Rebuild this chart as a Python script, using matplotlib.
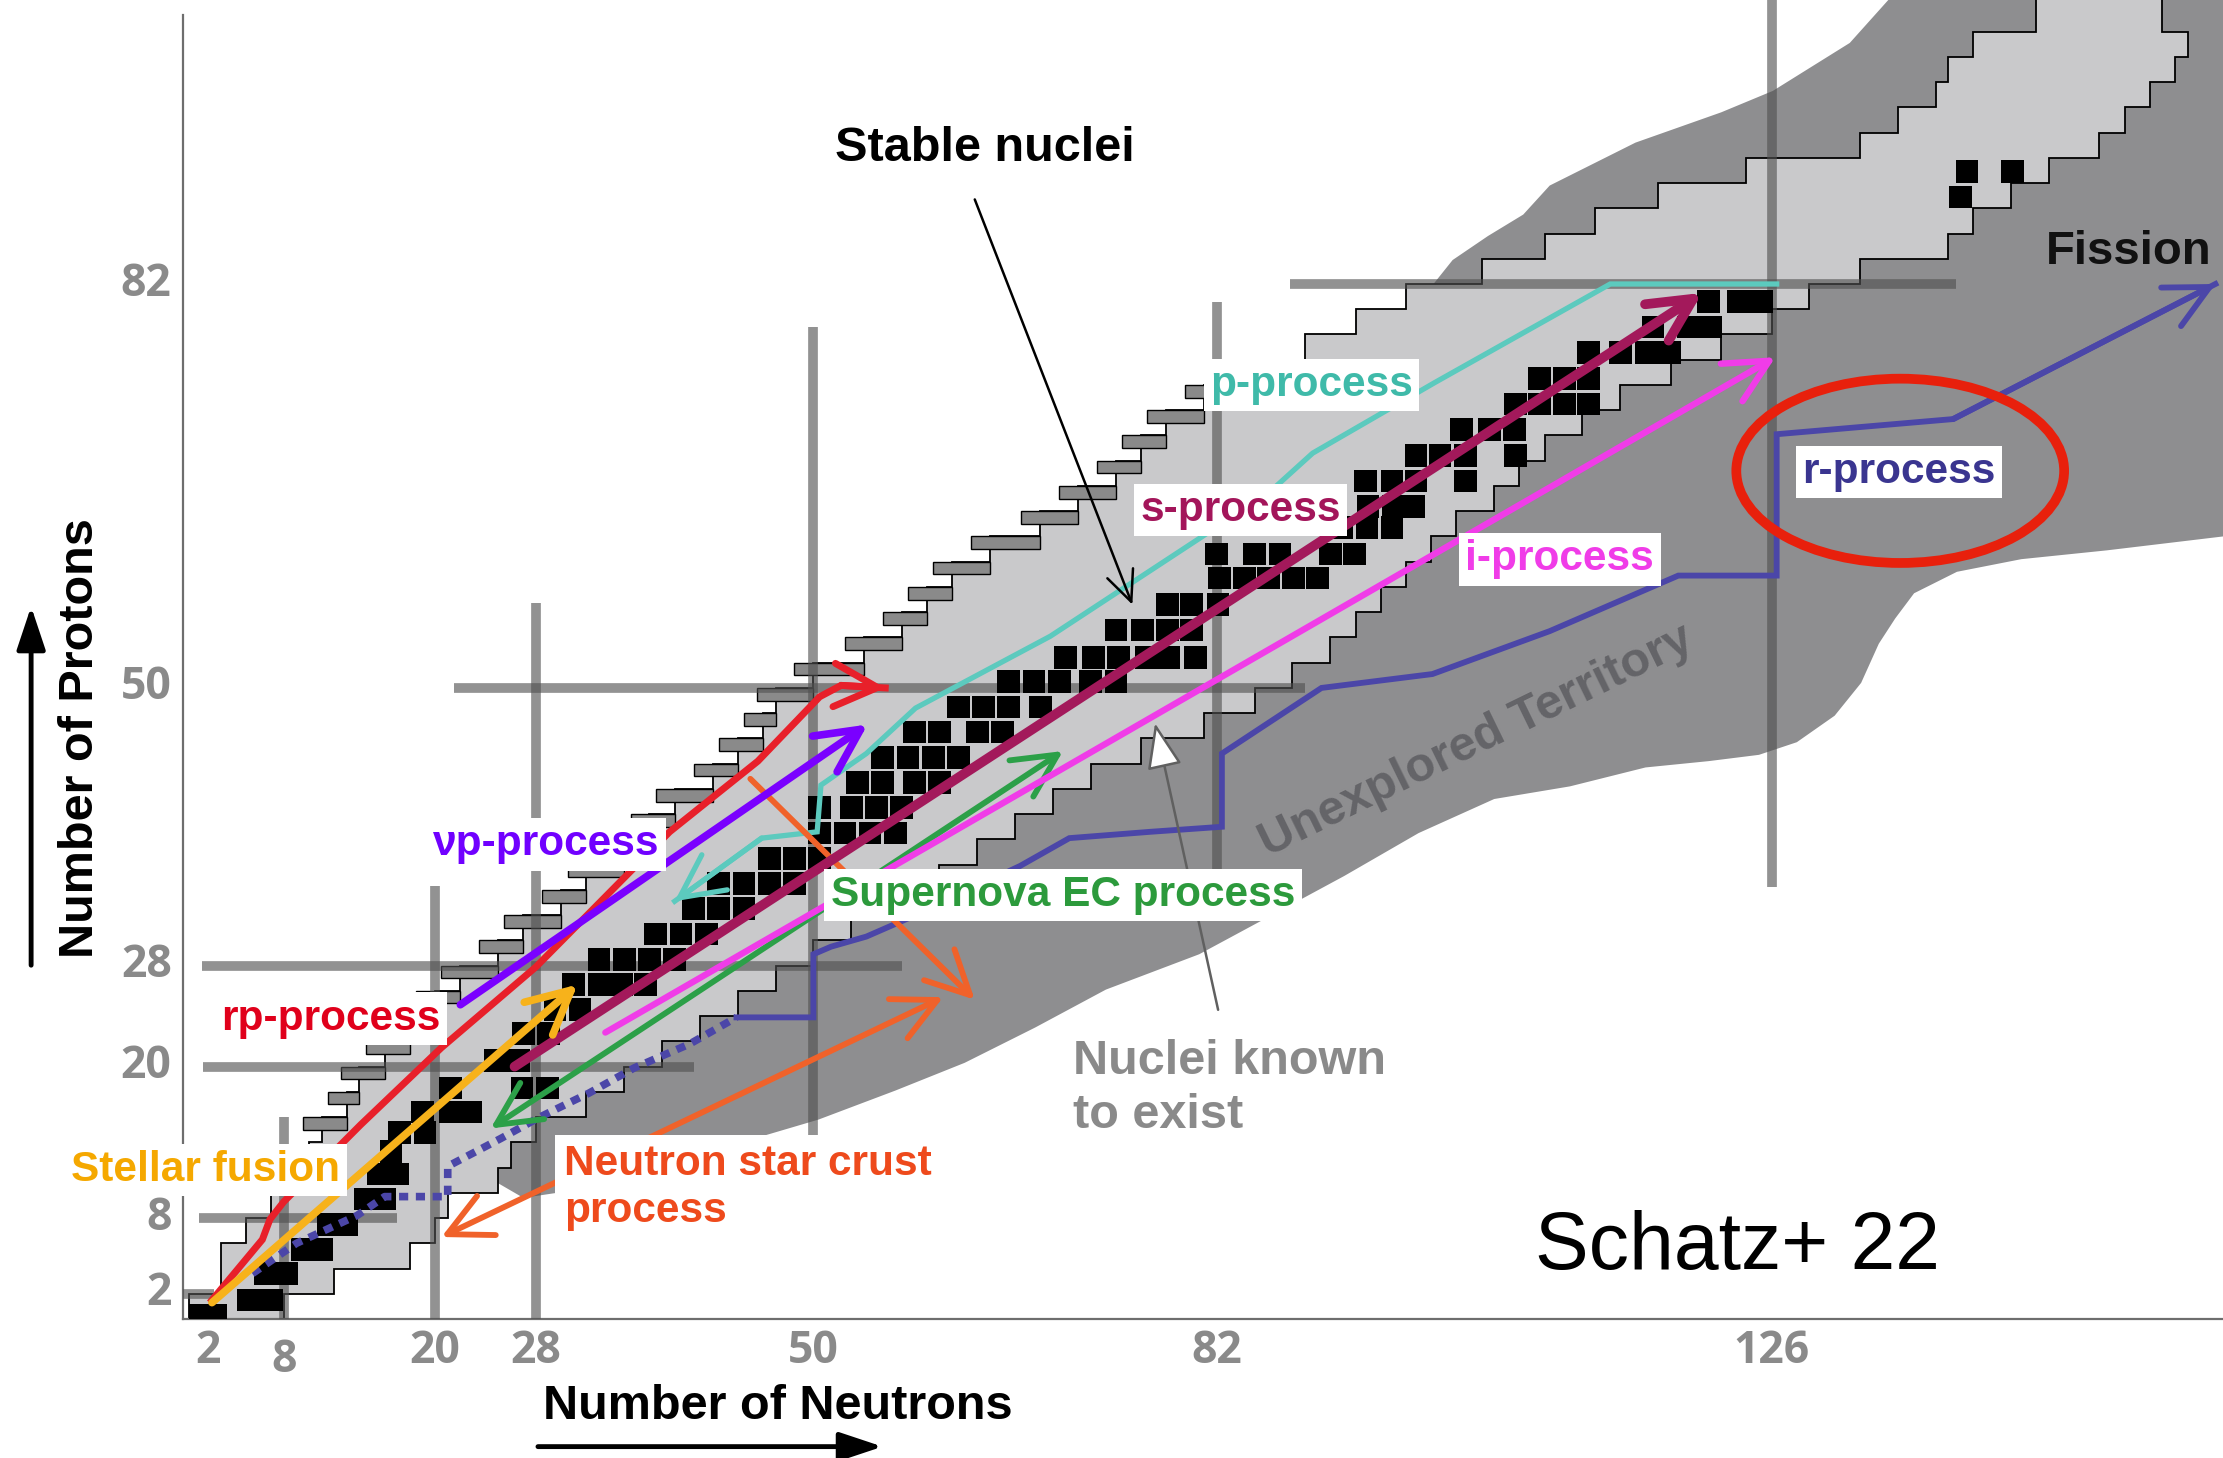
import matplotlib
matplotlib.use('Agg')
import matplotlib.pyplot as plt
from matplotlib.patches import Polygon, Rectangle, Ellipse

# rows of the chart of nuclides, two protons per row: lower edge, lightest and heaviest known N
row_z = list(range(0, 104, 2))
row_nmin = [0.5, 3, 3, 5, 7, 9, 10, 11, 13, 14, 16, 18, 20, 22, 25, 27, 30, 32, 35, 37,
            39, 42, 44, 46, 47, 50, 54, 57, 59, 61, 64, 68, 71, 74, 76, 78, 81, 86, 89, 93,
            97, 103, 108, 112, 117, 124, 133, 136, 139, 140, 142, 147]
row_nmax = [8, 12, 18, 20, 21, 25, 26, 28, 32, 35, 38, 41, 44, 47, 50, 53, 57, 60, 63, 66,
            69, 72, 76, 81, 85, 88, 91, 93, 95, 97, 99, 101, 104, 106, 108, 111, 114, 118, 122, 126,
            129, 133, 140, 142, 145, 148, 152, 154, 156, 158, 159, 157]

# outline of the predicted (unexplored) region
dark_n = [27, 33, 38, 42.6, 50.4, 56.5, 62, 67.6, 73.2, 80.6, 85.8, 92.1, 98, 104, 110,
          116, 121, 125, 128, 131, 133.1, 134.5, 135.8, 137.3, 140.7, 145.8, 152.6, 161.8, 165,
          165, 136.6, 132.2, 126.1, 122, 115.2, 108.4, 106.3, 103.5, 100.7, 99.1, 100, 70, 22]
dark_z = [9.6, 10.5, 12, 13.5, 15.8, 18.1, 20.3, 23.1, 26.1, 28.9, 31.7, 35.1, 38.5, 41.2,
          42.2, 43.7, 44.2, 44.7, 45.7, 47.8, 50.4, 53.5, 55.5, 57.5, 59.2, 60.2, 60.9, 62, 62,
          106, 106, 101.1, 97.3, 95.6, 93.2, 89.8, 87.5, 85.8, 83.9, 81.9, 80, 50, 12.5]

# stable nuclei, cell centres (Z row: N values)
stable = {
    0.3: [1.4, 2.6], 1.5: [5.2, 7.0], 3.6: [6.5, 8.2], 5.5: [9.5, 11], 7.5: [11.5, 13],
    9.5: [14.5, 16], 11.5: [15.5, 17], 13.3: [16.5], 14.8: [17.2, 19.2], 16.4: [19, 21.2, 22.8],
    18.3: [21.2, 26.9, 28.9], 20.5: [24.8, 26.6], 22.6: [27, 29], 24.5: [29.5, 31.5],
    26.5: [31, 33, 34.8, 36.7], 28.5: [33, 35, 37, 39],
    30.5: [37.5, 39.5, 41.5], 32.5: [40.5, 42.5, 44.5], 34.5: [42.5, 44.5, 46.5, 48.5],
    36.5: [46.5, 48.5, 50.5], 38.5: [50.5, 52.5, 54.5, 56.5], 40.5: [50.5, 53, 55, 57],
    42.5: [53.5, 55.5, 58, 60], 44.5: [55.5, 57.5, 59.5, 61.5], 46.5: [58, 60, 63, 65],
    48.5: [61.5, 63.5, 65.5, 68], 50.5: [65.5, 67.5, 69.5, 72, 74],
    52.4: [70, 72.2, 74.2, 76.4, 78.2, 80.3], 54.6: [74, 76.1, 78.1, 80],
    56.6: [78.1, 80, 82.1], 58.7: [82.2, 84.2, 86.1, 88.1, 90], 60.6: [82, 85, 87, 91, 92.9],
    62.7: [91.9, 93.9, 95.9], 64.4: [94, 96, 97.6], 66.4: [93.8, 95.9, 97.8, 101.7],
    68.4: [97.8, 99.7, 101.7, 105.7], 70.5: [101.4, 103.6, 105.6],
    72.5: [105.7, 107.6, 109.6, 111.5], 74.5: [107.6, 109.6, 111.5], 76.6: [111.5, 114, 116.1, 117.9],
    78.6: [116.6, 119.4, 121.2], 80.6: [121, 123.4, 125.2], 88.9: [141], 90.9: [141.5, 145.1],
}

# closed shells: (N, Z from, Z to) and (Z, N from, N to)
magic_v = [(8, 0, 16), (20, 0, 34.3), (28, 0, 56.7), (50, 14.5, 78.6), (82, 35.5, 80.6), (126, 34.2, 104.5)]
magic_h = [(2, 0, 2.5), (8, 1.3, 17), (20, 1.6, 40.5), (28, 1.5, 57), (50, 21.5, 89), (82, 87.8, 140.6)]

# process paths (N, Z)
stellar = [(2.3, 1.3), (31.3, 26.5)]
rp_path = [(2.3, 1.5), (6.3, 6.3), (6.9, 7.9), (8, 9.3), (14.1, 15.4), (20.5, 21.5), (28, 27.9),
           (38.6, 38.6), (45.6, 44.2), (50.5, 49.3), (52.2, 50.2), (55.7, 50.0)]
nup = [(22, 24.9), (54.3, 47.1)]
s_proc = [(26.3, 20), (120.5, 81.3)]
i_proc = [(33.5, 22.7), (126.3, 76.2)]
sn_ec = [(24.4, 15.1), (69.8, 45.0)]
p_path = [(126.4, 82), (113.2, 82), (99.3, 74.2), (89.6, 68.6), (86.5, 65.8), (80.7, 61.9),
          (68.8, 54.1), (58.1, 48.4), (54.2, 44.8), (50.6, 42.3), (50.3, 38.6), (45.9, 38.1), (39, 33.1)]
r_dotted = [(5.5, 3.6), (9, 6), (13.8, 8.2), (16, 9.7), (21, 9.7), (21, 12.1), (25.2, 14.3),
            (28.3, 16), (32.2, 17.9), (35.8, 19.9), (40.2, 21.8), (43.9, 23.9)]
r_path = [(43.9, 23.9), (50, 23.9), (50, 28.9), (51.4, 29.5), (54.2, 30.3), (58.1, 32), (66.4, 35.9),
          (70.3, 38.1), (76.7, 38.6), (82.4, 39), (82.4, 44.8), (90.3, 50), (99.1, 51.1),
          (108.4, 54.5), (118.6, 58.9), (126.4, 58.9), (126.4, 70.1), (140.4, 71.3), (161.2, 82)]
crust_a = [(20.5, 6.5), (60.3, 25.5)]
crust_b = [(45, 42.8), (62.8, 25.3)]

xticks = [2, 8, 20, 28, 50, 82, 126]
yticks = [2, 8, 20, 28, 50, 82]

LIGHT = '#c9c9cb'
DARK = '#8e8e90'

fig = plt.figure(figsize=(22.23, 14.58), dpi=100)
ax = fig.add_axes([0.0823, 0.0953, 0.9177, 0.9047])
ax.set_xlim(0, 161.8)
ax.set_ylim(0, 104.5)
for s in ['top', 'right']:
    ax.spines[s].set_visible(False)
for s in ['left', 'bottom']:
    ax.spines[s].set_color('#6e6e6e')
    ax.spines[s].set_linewidth(1.6)
ax.spines['left'].set_bounds(0, 103.3)
ax.set_xticks([])
ax.set_yticks([])

# unexplored territory
ax.add_patch(Polygon(list(zip(dark_n, dark_z)), closed=True, fc=DARK, ec='none', zorder=1))

# known nuclei as a staircase
edges = row_z + [106]
left = []
right = []
for k in range(len(row_z)):
    left += [(row_nmin[k], edges[k]), (row_nmin[k], edges[k + 1])]
    right += [(row_nmax[k], edges[k]), (row_nmax[k], edges[k + 1])]
outline = left + right[::-1]
ax.add_patch(Polygon(outline, closed=True, fc=LIGHT, ec='black', lw=1.3, zorder=2))

# darker cells under each step on the proton-rich side
for k in range(len(row_z) - 1):
    if 14 <= row_z[k] <= 72:
        n0 = row_nmin[k] - 1.5
        w = max(row_nmin[k + 1] - n0, 2.5)
        ax.add_patch(Rectangle((n0, edges[k + 1] - 1.0), w, 1.0, fc='#8a8a8a', ec='black',
                               lw=1.0, zorder=2.5))

for n, z0, z1 in magic_v:
    ax.plot([n, n], [z0, z1], color='#505050', alpha=0.62, lw=7, solid_capstyle='butt', zorder=3)
for z, n0, n1 in magic_h:
    ax.plot([n0, n1], [z, z], color='#505050', alpha=0.62, lw=7, solid_capstyle='butt', zorder=3)

sq = 1.8
for z, ns in stable.items():
    for n in ns:
        ax.add_patch(Rectangle((n - sq / 2, z - sq / 2), sq, sq, fc='black', ec='none', zorder=4))


def head(p0, p1, color, lw, style='->'):
    ax.annotate('', xy=p1, xytext=p0, zorder=6,
                arrowprops=dict(arrowstyle=style + ',head_length=1.2,head_width=0.6',
                                color=color, lw=lw, shrinkA=0, shrinkB=0, mutation_scale=26))


def path(pts, color, lw, **kw):
    ax.plot([p[0] for p in pts], [p[1] for p in pts], color=color, lw=lw,
            solid_joinstyle='miter', zorder=5, **kw)


path(r_dotted, '#4b46a8', 5.5, linestyle=(0, (1.2, 1.0)), dash_capstyle='butt')
path(r_path, '#4b46a8', 4.2)
head(r_path[-2], r_path[-1], '#4b46a8', 4.2)

path(p_path, '#5ccabe', 3.8)
head(p_path[-2], p_path[-1], '#5ccabe', 3.8)

path(rp_path, '#e8202a', 5)
head(rp_path[-2], rp_path[-1], '#e8202a', 5)

head(crust_a[0], crust_a[1], '#f0622a', 4.2, '<->')
head(crust_b[0], crust_b[1], '#f0622a', 4.2)
head(sn_ec[0], sn_ec[1], '#2ca048', 4.2, '<->')
head(i_proc[0], i_proc[1], '#f03ce8', 4.6)
head(s_proc[0], s_proc[1], '#a3195b', 7)
head(nup[0], nup[1], '#7a00ff', 5.5)
head(stellar[0], stellar[1], '#f7b21b', 5.5)

# annotation arrows
ax.annotate('', xy=(75.3, 56.6), xytext=(62.8, 88.7), zorder=6,
            arrowprops=dict(arrowstyle='->,head_length=1.0,head_width=0.45', color='black',
                            lw=1.8, shrinkA=0, shrinkB=0, mutation_scale=22))
ax.annotate('', xy=(77.1, 47.2), xytext=(82.1, 24.5), zorder=6,
            arrowprops=dict(arrowstyle='-|>,head_length=1.3,head_width=0.5', ec='#606060',
                            fc='white', lw=1.8, shrinkA=0, shrinkB=0, mutation_scale=22))

ax.add_patch(Ellipse((136.2, 67.2), 26, 14.6, fill=False, ec='#e8200c', lw=7, zorder=7))

# process labels
box = dict(boxstyle='square,pad=0.15', fc='white', ec='none')
lab = dict(fontsize=30.5, fontweight='bold', family='Liberation Sans', zorder=10,
           ha='center', va='center', bbox=box)
ax.text(89.5, 74.0, 'p-process', color='#3fbaa9', **lab)
ax.text(83.9, 64.1, 's-process', color='#a3155a', **lab)
ax.text(109.2, 60.2, 'i-process', color='#f03ce8', **lab)
ax.text(136.1, 67.1, 'r-process', color='#3a3590', **lab)
ax.text(28.8, 37.6, 'νp-process', color='#7000ff', **lab)
ax.text(69.8, 33.6, 'Supernova EC process', color='#2c9a3c', **lab)
ax.text(11.7, 23.8, 'rp-process', color='#e0001b', **lab)
ax.text(1.8, 11.8, 'Stellar fusion', color='#f5a800', **lab)
ax.text(30.2, 10.45, 'Neutron star crust\nprocess', color='#ee4a1c', fontsize=30.5,
        fontweight='bold', family='Liberation Sans', ha='left', va='center', linespacing=1.22,
        zorder=10, bbox=dict(boxstyle='square,pad=0.2', fc='white', ec='none'))

ax.text(63.6, 92.7, 'Stable nuclei', fontsize=35, fontweight='bold', family='Liberation Sans',
        ha='center', va='center', color='black', zorder=10)
ax.text(154.3, 84.5, 'Fission', fontsize=34, fontweight='bold', family='Liberation Sans',
        ha='center', va='center', color='#111111', zorder=10)
ax.text(70.6, 18.25, 'Nuclei known\nto exist', fontsize=35, fontweight='bold',
        family='Liberation Sans', ha='left', va='center', color='#8a8a8a', linespacing=1.25,
        zorder=10)
ax.text(102.6, 45.8, 'Unexplored Territory', fontsize=35, fontweight='bold',
        family='Liberation Sans', ha='center', va='center', color='#646468', rotation=26,
        rotation_mode='anchor', zorder=4.5)
ax.text(123.3, 5.6, 'Schatz+ 22', fontsize=58, family='Liberation Sans', ha='center',
        va='center', color='black', zorder=10)

# tick labels
tick = dict(fontsize=32, fontweight='bold', family='Open Sans', color='#8a8a8a')
for n in xticks:
    ax.text(n, -3.3 if n == 8 else -2.6, str(n), ha='center', va='center', clip_on=False, **tick)
for z in yticks:
    ax.text(-0.9, z, str(z), ha='right', va='center', clip_on=False, **tick)

# axis titles with arrows
fig.text(0.0364, 0.494, 'Number of Protons', rotation=90, fontsize=35, fontweight='bold',
         family='Liberation Sans', ha='center', va='center')
fig.text(0.350, 0.035, 'Number of Neutrons', fontsize=35, fontweight='bold',
         family='Liberation Sans', ha='center', va='center')
ax.annotate('', xy=(0.014, 0.584), xytext=(0.014, 0.338), xycoords='figure fraction',
            textcoords='figure fraction',
            arrowprops=dict(arrowstyle='-|>,head_length=1.2,head_width=0.4', color='black',
                            lw=3.5, shrinkA=0, shrinkB=0, mutation_scale=22))
ax.annotate('', xy=(0.397, 0.0078), xytext=(0.242, 0.0078), xycoords='figure fraction',
            textcoords='figure fraction',
            arrowprops=dict(arrowstyle='-|>,head_length=1.2,head_width=0.4', color='black',
                            lw=3.5, shrinkA=0, shrinkB=0, mutation_scale=22))

fig.savefig('out.png', dpi=100, facecolor='white')
